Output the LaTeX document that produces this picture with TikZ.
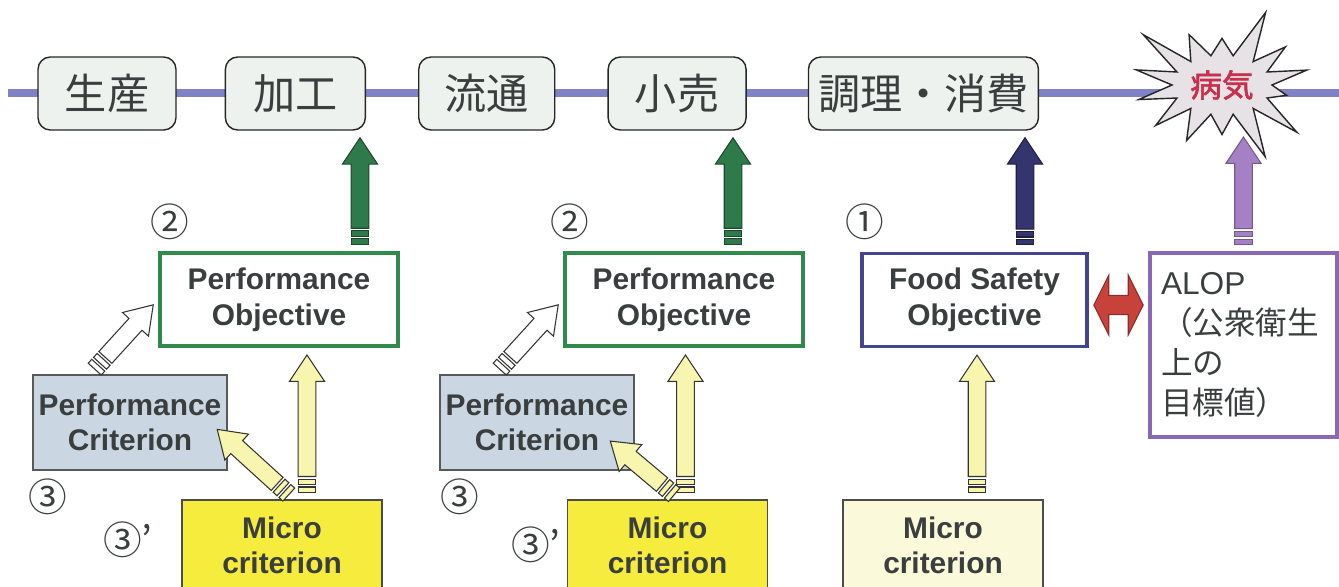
\documentclass[tikz,border=0pt]{standalone}
\usepackage{fontspec}
\setmainfont{Liberation Sans}
\newfontfamily\jp{Noto Sans CJK JP}
\newfontfamily\jpbold[FakeBold=2]{Noto Sans CJK JP}
\usetikzlibrary{positioning, calc, shapes.symbols}

\definecolor{lineblue}{HTML}{7F82C4}
\definecolor{stagefill}{HTML}{EEF2EE}
\definecolor{textgray}{HTML}{3A3E3E}
\definecolor{pogreen}{HTML}{2F8A4C}
\definecolor{arrowgreen}{HTML}{2E7A4A}
\definecolor{fsonavy}{HTML}{44458A}
\definecolor{arrownavy}{HTML}{34346E}
\definecolor{alopviolet}{HTML}{8A68B4}
\definecolor{arrowviolet}{HTML}{A680C4}
\definecolor{critblue}{HTML}{CAD6E2}
\definecolor{microyellow}{HTML}{F6EC3E}
\definecolor{micropale}{HTML}{FAFADA}
\definecolor{arrowyellow}{HTML}{F8F6AE}
\definecolor{burstgray}{HTML}{E6E2E6}
\definecolor{burstred}{HTML}{C8304C}
\definecolor{arrowred}{HTML}{C6423A}

% fat block arrow with banded tail, from #2 to #3
\newcommand{\fatarrow}[3][]{%
  \coordinate (fa-s) at (#2);
  \coordinate (fa-e) at (#3);
  \pgfpointdiff{\pgfpointanchor{fa-s}{center}}{\pgfpointanchor{fa-e}{center}}%
  \pgfgetlastxy{\fadx}{\fady}%
  \pgfmathsetmacro{\faang}{atan2(\fady,\fadx)}%
  \pgfmathsetmacro{\falen}{veclen(\fadx,\fady)-4}%
  \begin{scope}[shift={(fa-s)}, rotate=\faang, x=1pt, y=1pt]
    \draw[#1] (13,-5) -- (\falen-15,-5) -- (\falen-15,-10) -- (\falen,0)
      -- (\falen-15,10) -- (\falen-15,5) -- (13,5) -- cycle;
    \draw[#1] (4,-5) rectangle (7,5);
    \draw[#1] (8.5,-5) rectangle (11.5,5);
  \end{scope}}

\begin{document}
\begin{tikzpicture}[x=0.02cm, y=-0.02cm,
  stage/.style = {draw=black!85, line width=0.8pt, rounded corners=7pt, fill=stagefill,
    minimum width=2.76cm, minimum height=1.46cm, inner sep=0pt, text=textgray,
    font=\jp\fontsize{24}{24}\selectfont},
  goal/.style = {draw, line width=2.2pt, fill=white, minimum width=4.76cm, minimum height=1.86cm,
    align=center, text=textgray, font=\bfseries\fontsize{17}{20.5}\selectfont},
  crit/.style = {draw=black!65, line width=0.8pt, fill=critblue, minimum width=3.84cm,
    minimum height=1.9cm, align=center, text=textgray, font=\bfseries\fontsize{17}{20}\selectfont},
  micro/.style = {draw=black!70, line width=0.8pt, minimum width=4cm, minimum height=1.8cm,
    align=center, text=textgray, font=\bfseries\fontsize{17}{20}\selectfont},
  num/.style = {text=textgray, font=\jp\fontsize{22}{22}\selectfont},
  greenarrow/.style = {fill=arrowgreen, draw=arrowgreen!60!black, line width=0.6pt},
  navyarrow/.style = {fill=arrownavy, draw=arrownavy!60!black, line width=0.6pt},
  violetarrow/.style = {fill=arrowviolet, draw=arrowviolet!70!black, line width=0.6pt},
  yellowarrow/.style = {fill=arrowyellow, draw=black!80, line width=0.6pt},
  whitearrow/.style = {fill=white, draw=black!80, line width=0.6pt},
  redarrow/.style = {fill=arrowred, draw=arrowred!70!black, line width=0.6pt}]
\clip (0,0) rectangle (1339,586);

% time line of the food chain
\coordinate (lineL) at (8,93);
\coordinate (lineR) at (1339,93);
\draw[lineblue, line width=4pt] (lineL) -- (lineR);

\node[stage] (seisan) at (107,93.5) {生産};
\node[stage, right=0.96cm of seisan, minimum width=2.8cm] (kako) {加工};
\node[stage, right=1.04cm of kako, minimum width=2.72cm] (ryutsu) {流通};
\node[stage, right=1.04cm of ryutsu] (kouri) {小売};
\node[stage, right=1.22cm of kouri, minimum width=4.6cm] (chouri) {調理・消費};
\node[starburst, starburst points=14, starburst point height=1.05cm, random starburst=3,
  minimum width=4.1cm, minimum height=3.3cm, draw=black!85, line width=0.8pt, fill=burstgray,
  text=burstred, font=\jpbold\fontsize{18}{18}\selectfont, inner sep=0pt] (byoki) at (1222,85) {病気};

% objectives
\node[goal, draw=pogreen] (po1) at (279,299.5) {Performance\\Objective};
\node[goal, draw=pogreen] (po2) at (684,299.5) {Performance\\Objective};
\node[goal, draw=fsonavy, line width=1.8pt, minimum width=4.5cm] (fso) at (974.5,300) {Food Safety\\Objective};
\node[draw=alopviolet, line width=1.8pt, minimum width=3.74cm, minimum height=3.68cm,
  text width=3.3cm, align=left, text=textgray, font=\fontsize{18}{22.7}\selectfont]
  (alop) at (1243.5,345) {ALOP\\{\jp （公衆衛生}\\{\jp 上の}\\{\jp 目標値）}};

% criteria
\node[crit] (pc1) at (130,422.5) {Performance\\Criterion};
\node[crit] (pc2) at (537,422.5) {Performance\\Criterion};
\node[micro, fill=microyellow] (mc1) at (282,545) {Micro\\criterion};
\node[micro, fill=microyellow] (mc2) at (667.5,545) {Micro\\criterion};
\node[micro, fill=micropale] (mc3) at (943,545) {Micro\\criterion};

% step numbers
\node[num] (n2a) at (170,222) {②};
\node[num] (n2b) at (570,222) {②};
\node[num] (n1) at (865,222) {①};
\node[num] (n3a) at (48,497) {③};
\node[num] (n3b) at (460,497) {③};
\node[num] (n3pa) at (128,540) {③’};
\node[num] (n3pb) at (536,545) {③’};

% arrows up to the chain
\coordinate (up1) at ($(po1.north)+(81,0)$);
\fatarrow[greenarrow]{up1}{up1 |- kako.south}
\coordinate (up2) at ($(po2.north)+(49,0)$);
\fatarrow[greenarrow]{up2}{up2 |- kouri.south}
\coordinate (up3) at ($(fso.north)+(50.5,0)$);
\fatarrow[navyarrow]{up3}{up3 |- chouri.south}
\coordinate (byoki-foot) at (1243.5,130);
\fatarrow[violetarrow]{alop.north}{byoki-foot}

% arrows from the criteria
\coordinate (mc1-top) at ($(mc1.north)+(25,0)$);
\fatarrow[yellowarrow]{mc1-top}{mc1-top |- po1.south}
\coordinate (mc2-top) at ($(mc2.north)+(18,0)$);
\fatarrow[yellowarrow]{mc2-top}{mc2-top |- po2.south}
\coordinate (mc3-top) at ($(mc3.north)+(34,0)$);
\fatarrow[yellowarrow]{mc3-top}{mc3-top |- fso.south}
\fatarrow[whitearrow]{$(pc1.north)+(-40,0)$}{po1.west}
\fatarrow[yellowarrow]{$(mc1.north)+(12,0)$}{$(pc1.east)+(-16,2)$}
\fatarrow[whitearrow]{$(pc2.north)+(-42,0)$}{po2.west}
\fatarrow[yellowarrow]{$(mc2.north)+(12,0)$}{$(pc2.east)+(-30,14)$}

% FSO <-> ALOP
\draw[redarrow] let \p1=($(fso.east)+(0,5)$), \p2=($(fso.east -| alop.west)+(0,5)$) in
  (\x1+3pt,\y1) -- (\x1+11.5pt,\y1+17pt) -- (\x1+11.5pt,\y1+5.5pt) -- (\x2-11.5pt,\y1+5.5pt)
  -- (\x2-11.5pt,\y1+17pt) -- (\x2-3pt,\y1) -- (\x2-11.5pt,\y1-17pt) -- (\x2-11.5pt,\y1-5.5pt)
  -- (\x1+11.5pt,\y1-5.5pt) -- (\x1+11.5pt,\y1-17pt) -- cycle;
\end{tikzpicture}
\end{document}
